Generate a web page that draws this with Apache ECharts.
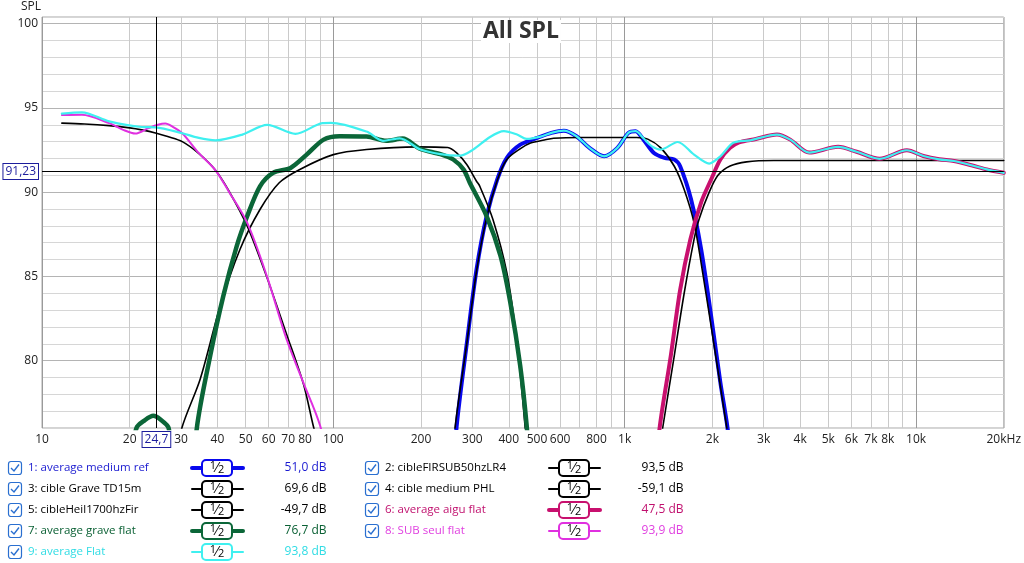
<!DOCTYPE html>
<html>
<head>
<meta charset="utf-8">
<script src="https://cdn.jsdelivr.net/npm/echarts@6/dist/echarts.min.js"></script>
<style>html,body{margin:0;padding:0;background:#fff}#chart{width:1024px;height:563px}</style>
</head>
<body>
<div id="chart"></div>
<script>
// axis ticks
var gridFreqs = [10,20,30,40,50,60,70,80,90,100,200,300,400,500,600,700,800,900,1000,2000,3000,4000,5000,6000,7000,8000,9000,10000,20000];
var labelFreqs = [10,20,30,40,50,60,70,80,100,200,300,400,500,600,800,1000,2000,3000,4000,5000,6000,7000,8000,10000,20000];
var decadeFreqs = [10,100,1000,10000];

// cursor
var cursorFreq = 24.7;
var cursorSpl = 91.23;

// 1: average medium ref
var medRefF = [255,265,287,310,336,365,394,438,500,560,618,683,757,850,944,1030,1090,1160,1260,1370,1480,1550,1690,1830,1980,2130,2250,2400];
var medRefV = [72,76.1,81.0,85.4,88.6,90.75,92.04,92.82,93.22,93.52,93.65,93.32,92.63,92.13,92.63,93.52,93.62,93.12,92.33,92.04,91.94,91.54,89.56,86.6,82.65,78.7,76.1,72];
// 2: cibleFIRSUB50hzLR4
var subTgtF = [11.7,14,17,20,22,24.7,27,30.3,34.5,39.4,43.7,50.6,59,69,79,85.4,92];
var subTgtV = [94.1,94.05,93.95,93.82,93.7,93.5,93.3,93.0,92.3,91.3,90.1,88.0,85.0,81.6,78.6,76.1,74];
// 3: cible Grave TD15m
var graveTgtF = [29,30.2,34.9,40.9,47.8,56,65.2,76.7,100,130,194,247,265,287,310,318,353,394,427,455,470];
var graveTgtV = [74,76,78.9,83.24,86.6,88.97,90.56,91.35,92.23,92.53,92.69,92.65,92.33,91.64,90.65,90.36,88.38,85.22,81.07,76.1,73];
// 4: cible medium PHL
var medTgtF = [250,262,287,310,336,365,394,440,475,530,570,700,900,1100,1200,1330,1480,1600,1730,1860,2020,2190,2250,2400];
var medTgtV = [72,76.1,81.0,85.3,88.5,90.7,91.94,92.6,92.92,93.1,93.2,93.25,93.25,93.25,93.15,92.63,91.54,90.16,88.18,85.02,81.07,77.12,75.8,72];
// 5: cibleHeil1700hzFir
var heilTgtF = [1250,1350,1480,1600,1730,1800,1950,2090,2300,2620,3250,5000,10000,20000];
var heilTgtV = [72,76.0,80.3,84.0,87.2,88.4,90.0,91.0,91.55,91.8,91.88,91.88,91.88,91.88];
// 6: average aigu flat
var aiguF = [1250,1320,1440,1550,1680,1830,1980,2130,2300,2470,2820,3330,3700,4300,5400,6250,7500,9300,10600,12000,13500,15500,17500,20000];
var aiguV = [72,76.1,80.3,84.2,87.2,89.4,90.75,91.94,92.63,92.96,93.16,93.42,93.12,92.35,92.69,92.4,91.98,92.49,92.15,91.95,91.85,91.6,91.35,91.15];
// 7: average grave flat
var graveF = [19.5,21.1,22.5,24.1,25.5,27.2,28.5,31,33,34,37.8,41.9,46.6,50.6,56,62.1,71.3,81,92.6,105,130,152,173,198,233,258,280,294,336,375,405,438,461,480];
var graveV = [73,76.0,76.45,76.72,76.5,76.0,73,null,72,76.0,80.3,83.83,86.8,88.57,90.35,91.15,91.44,92.23,93.12,93.32,93.3,93.05,93.18,92.58,92.26,91.94,91.34,90.56,88.57,86.2,83.44,79.68,76.1,72];
// 8: SUB seul flat
var subF = [11.7,13.7,17,19,20.9,23.2,25,26.5,28,30.3,34.5,39.4,43.7,50.6,59.1,69.1,78.9,90.1,95];
var subV = [94.58,94.6,94.1,93.7,93.48,93.8,94.0,94.07,93.9,93.5,92.33,91.3,90.06,88.19,85.03,81.27,78.7,76.13,74];
// 9: average Flat
var flatF = [11.7,13.7,17,22,24.5,30.3,34,39.4,48.7,59.3,74.1,91.7,98,130,148,169,198,233,272,302,345,385,427,461,514,560,618,683,757,850,944,1030,1090,1160,1240,1330,1520,1730,1950,2130,2360,2700,3330,3700,4300,5400,6250,7500,9300,10600,12000,13500,15500,17500,20000];
var flatV = [94.66,94.74,94.2,93.87,93.85,93.5,93.25,93.08,93.42,94.0,93.46,94.1,94.12,93.6,93.05,93.2,92.55,92.26,92.17,92.53,93.28,93.62,93.42,93.16,93.3,93.52,93.65,93.32,92.63,92.13,92.63,93.52,93.62,93.2,92.72,92.53,92.98,92.23,91.7,92.13,92.93,93.08,93.42,93.12,92.35,92.69,92.4,91.98,92.49,92.15,91.95,91.85,91.6,91.35,91.15];

var legendNames = ['1: average medium ref','2: cibleFIRSUB50hzLR4','3: cible Grave TD15m','4: cible medium PHL','5: cibleHeil1700hzFir','6: average aigu flat','7: average grave flat','8: SUB seul flat','9: average Flat'];
var legendValues = ['51,0 dB','93,5 dB','69,6 dB','-59,1 dB','-49,7 dB','47,5 dB','76,7 dB','93,9 dB','93,8 dB'];

var FONT = 'Open Sans';
var curves = [
  {f: medRefF, v: medRefV, color: '#0808ee', text: '#1a1ad0', w: 4},
  {f: subTgtF, v: subTgtV, color: '#000', text: '#000', w: 1.6},
  {f: graveTgtF, v: graveTgtV, color: '#000', text: '#000', w: 1.6},
  {f: medTgtF, v: medTgtV, color: '#000', text: '#000', w: 1.6},
  {f: heilTgtF, v: heilTgtV, color: '#000', text: '#000', w: 1.6},
  {f: aiguF, v: aiguV, color: '#c8106e', text: '#c0106e', w: 4},
  {f: graveF, v: graveV, color: '#0b6638', text: '#0a6034', w: 4.5},
  {f: subF, v: subV, color: '#e030e0', text: '#e040e0', w: 2},
  {f: flatF, v: flatV, color: '#3ff0f0', text: '#30dce4', w: 2.2}
];

function pairs(f, v) {
  return f.map(function (x, i) { return [x, v[i]]; });
}
function fmtFreq(val) {
  var f = Math.round(val);
  if (f === 20000) return '20kHz';
  return f >= 1000 ? (f / 1000) + 'k' : String(f);
}

var series = curves.map(function (c, i) {
  return {
    name: legendNames[i],
    type: 'line',
    data: pairs(c.f, c.v),
    showSymbol: false,
    smooth: 0.3,
    clip: true,
    silent: true,
    animation: false,
    lineStyle: {color: c.color, width: c.w, cap: 'round', join: 'round'},
    itemStyle: {color: c.color}
  };
});
series[8].markLine = {
  silent: true,
  symbol: 'none',
  animation: false,
  lineStyle: {color: '#000', width: 1, type: 'solid'},
  label: {
    show: true, position: 'start', color: '#1c1c9c', backgroundColor: '#fff',
    borderColor: '#1c1c9c', borderWidth: 1, padding: [2, 2, 1, 2],
    fontSize: 12, fontFamily: FONT, distance: 4
  },
  data: [
    {xAxis: cursorFreq, label: {formatter: String(cursorFreq).replace('.', ',')}},
    {yAxis: cursorSpl, label: {formatter: String(cursorSpl).replace('.', ',')}}
  ]
};

// legend drawn as graphic rows
var graphics = [{
  type: 'text', left: 21, top: 1,
  style: {text: 'SPL', fontSize: 12, fontFamily: FONT, fill: '#222'}
}];
legendNames.forEach(function (name, i) {
  var cx = i % 2 === 0 ? 0 : 357;
  var ry = 468 + Math.floor(i / 2) * 21;
  var c = curves[i];
  graphics.push(
    {type: 'rect', shape: {x: 8.5 + cx, y: ry - 6.5, width: 13, height: 13, r: 2.5},
      style: {fill: '#fff', stroke: '#2a6fd0', lineWidth: 1.2}},
    {type: 'polyline', shape: {points: [[11 + cx, ry], [14 + cx, ry + 3], [19 + cx, ry - 3.5]]},
      style: {fill: null, stroke: '#2a6fd0', lineWidth: 1.4}},
    {type: 'text', x: 28 + cx, y: ry,
      style: {text: name, fontSize: 11.5, fontFamily: FONT, fill: c.text, verticalAlign: 'middle'}},
    {type: 'line', shape: {x1: 192 + cx, y1: ry, x2: 243 + cx, y2: ry},
      style: {stroke: c.color, lineWidth: c.w > 3 ? 4 : 2, lineCap: 'round'}},
    {type: 'rect', shape: {x: 202 + cx, y: ry - 8, width: 30, height: 16, r: 4},
      style: {fill: '#fff', stroke: c.color, lineWidth: 2}},
    {type: 'text', x: 217 + cx, y: ry,
      style: {
        text: '{n|1}{s|⁄}{d|2}', align: 'center', verticalAlign: 'middle', fill: '#000',
        rich: {
          n: {fontSize: 11, lineHeight: 11, verticalAlign: 'top', padding: [0, 0, 4, 0], fontFamily: FONT},
          s: {fontSize: 14, lineHeight: 15, fontFamily: FONT},
          d: {fontSize: 11, lineHeight: 11, verticalAlign: 'bottom', padding: [4, 0, 0, 0], fontFamily: FONT}
        }
      }},
    {type: 'text', x: 326.5 + cx, y: ry,
      style: {text: legendValues[i], fontSize: 12, fontFamily: FONT, fill: c.text, align: 'right', verticalAlign: 'middle'}}
  );
});

var chart = echarts.init(document.getElementById('chart'));
chart.setOption({
  animation: false,
  backgroundColor: '#fff',
  title: {
    text: 'All SPL', left: 481, top: 20, padding: [0, 2],
    backgroundColor: '#fff',
    textStyle: {fontSize: 23, fontWeight: 'bold', color: '#333', fontFamily: FONT}
  },
  grid: {left: 42, right: 20, top: 17, bottom: 135, show: true, borderColor: '#a8a8a8', borderWidth: 1},
  xAxis: {
    type: 'log', logBase: 10, min: 10, max: 20000,
    axisLine: {show: false},
    axisTick: {show: false, customValues: gridFreqs},
    axisLabel: {customValues: labelFreqs, formatter: fmtFreq, color: '#222', fontSize: 12, fontFamily: FONT, margin: 6, hideOverlap: false},
    splitLine: {show: true, lineStyle: {width: 1, color: gridFreqs.map(function (f) {
      return decadeFreqs.indexOf(f) >= 0 ? '#9a9a9a' : '#cacaca';
    })}}
  },
  yAxis: {
    type: 'value', min: 76, max: 100.4, interval: 1,
    axisLine: {show: false},
    axisTick: {show: false},
    axisLabel: {
      color: '#222', fontSize: 12, fontFamily: FONT, margin: 4,
      formatter: function (v) { return v % 5 === 0 ? String(v) : ''; }
    },
    splitLine: {show: true, lineStyle: {width: 1, color: ['#d6d6d6', '#d6d6d6', '#d6d6d6', '#d6d6d6', '#b4b4b4']}}
  },
  series: series,
  graphic: graphics
});
</script>
</body>
</html>
